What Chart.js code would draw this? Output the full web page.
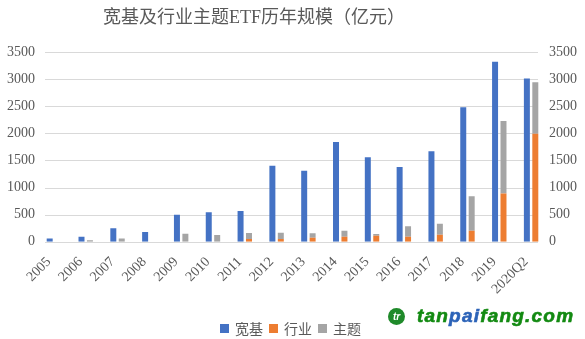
<!DOCTYPE html>
<html>
<head>
<meta charset="utf-8">
<script src="https://cdn.jsdelivr.net/npm/chart.js@4/dist/chart.umd.min.js"></script>
<style>
  html, body { margin: 0; padding: 0; background: #fff; }
  #wrap { position: relative; width: 585px; height: 339px; overflow: hidden; }
  #chart { position: absolute; left: 0; top: 0; }
  .title {
    position: absolute; left: 103px; top: 7px;
    font: 18px/20px "Liberation Serif", "Noto Sans CJK SC", serif;
    color: #595959; white-space: nowrap;
  }
  .legend {
    position: absolute; left: 220px; top: 320px;
    font: 14px/16px "Noto Sans CJK SC", sans-serif; color: #595959;
    display: flex; align-items: center; white-space: nowrap;
  }
  .legend span.sw { display: inline-block; width: 9px; height: 9px; margin-right: 6px; }
  .legend span.lbl { margin-right: 6px; }
  .mark {
    position: absolute; left: 388px; top: 306px;
    display: flex; align-items: center; white-space: nowrap;
  }
  .mark .logo {
    width: 17px; height: 17px; border-radius: 50%; background: #1f8a2a;
    color: #fff; font: bold italic 10px/17px "Liberation Sans", sans-serif;
    text-align: center; margin-right: 12px;
  }
  .mark .txt {
    font: bold italic 19px/20px "Liberation Sans", sans-serif; color: #138a12;
    letter-spacing: 1.2px; -webkit-text-stroke: 0.6px currentColor;
  }
  .mark .txt b { color: #2c63b8; }
</style>
</head>
<body>
<div id="wrap">
  <canvas id="chart" width="585" height="339"></canvas>
  <div class="title">宽基及行业主题ETF历年规模（亿元）</div>
  <div class="legend" id="legend"></div>
  <div class="mark"><div class="logo">tr</div><div class="txt">tan<b>pai</b>fang.com</div></div>
</div>
<script>
/* ETF scale by year, 亿元 */
const years = ['2005', '2006', '2007', '2008', '2009', '2010', '2011', '2012',
               '2013', '2014', '2015', '2016', '2017', '2018', '2019', '2020Q2'];
const broadBase = [60, 90, 250, 180, 495, 545, 565, 1400, 1310, 1840, 1560, 1380, 1670, 2480, 3320, 3010];
const industry  = [0, 0, 0, 0, 0, 0, 50, 50, 75, 90, 110, 90, 130, 200, 890, 1990];
const theme     = [0, 25, 60, 0, 145, 125, 110, 115, 80, 110, 30, 195, 200, 640, 1335, 950];

const axisMax = 3500;
const axisStep = 500;

const BLUE = '#4472C4', ORANGE = '#ED7D31', GRAY = '#A5A5A5';
const TEXT = '#595959';
const tickFont = { family: 'Liberation Serif', size: 14 };

// horizontal grid lines, a bit shorter than the category band
const gridLines = {
  id: 'gridLines',
  beforeDatasetsDraw(chart) {
    const { ctx } = chart;
    const y = chart.scales.y;
    ctx.save();
    ctx.strokeStyle = '#D9D9D9';
    ctx.lineWidth = 1;
    y.ticks.forEach(t => {
      const py = Math.round(y.getPixelForValue(t.value)) + 0.5;
      ctx.beginPath();
      ctx.moveTo(45, py);
      ctx.lineTo(538, py);
      ctx.stroke();
    });
    ctx.restore();
  }
};

const yAxis = (pos) => ({
  position: pos,
  min: 0,
  max: axisMax,
  stacked: true,
  grid: { display: false, drawTicks: false },
  border: { display: false },
  ticks: {
    stepSize: axisStep,
    color: TEXT,
    font: tickFont,
    padding: pos === 'left' ? 3 : 2,
    callback: v => String(v)
  },
  afterFit(scale) { scale.width = 38; }
});

const chart = new Chart(document.getElementById('chart'), {
  type: 'bar',
  data: {
    labels: years,
    datasets: [
      { label: '宽基', data: broadBase, backgroundColor: BLUE, stack: 'a' },
      { label: '行业', data: industry, backgroundColor: ORANGE, stack: 'b' },
      { label: '主题', data: theme, backgroundColor: GRAY, stack: 'b' }
    ]
  },
  options: {
    responsive: false,
    animation: false,
    devicePixelRatio: 1,
    categoryPercentage: 0.53,
    barPercentage: 0.71,
    layout: { padding: { top: 52, left: 0, right: 0, bottom: 0 } },
    plugins: {
      legend: { display: false },
      title: { display: false },
      tooltip: { enabled: false }
    },
    scales: {
      x: {
        stacked: true,
        grid: { display: false, drawTicks: false },
        border: { display: false },
        ticks: {
          color: TEXT,
          font: { family: 'Liberation Serif', size: 14 },
          maxRotation: 45,
          minRotation: 45,
          autoSkip: false,
          padding: 12,
          labelOffset: -5
        },
        afterFit(scale) { scale.height = 97.3; }
      },
      y: yAxis('left'),
      y2: Object.assign(yAxis('right'), { stacked: false })
    }
  },
  plugins: [gridLines]
});

// legend built from the datasets
const legendEl = document.getElementById('legend');
chart.data.datasets.forEach(ds => {
  const sw = document.createElement('span');
  sw.className = 'sw';
  sw.style.background = ds.backgroundColor;
  const lbl = document.createElement('span');
  lbl.className = 'lbl';
  lbl.textContent = ds.label;
  legendEl.appendChild(sw);
  legendEl.appendChild(lbl);
});
</script>
</body>
</html>
